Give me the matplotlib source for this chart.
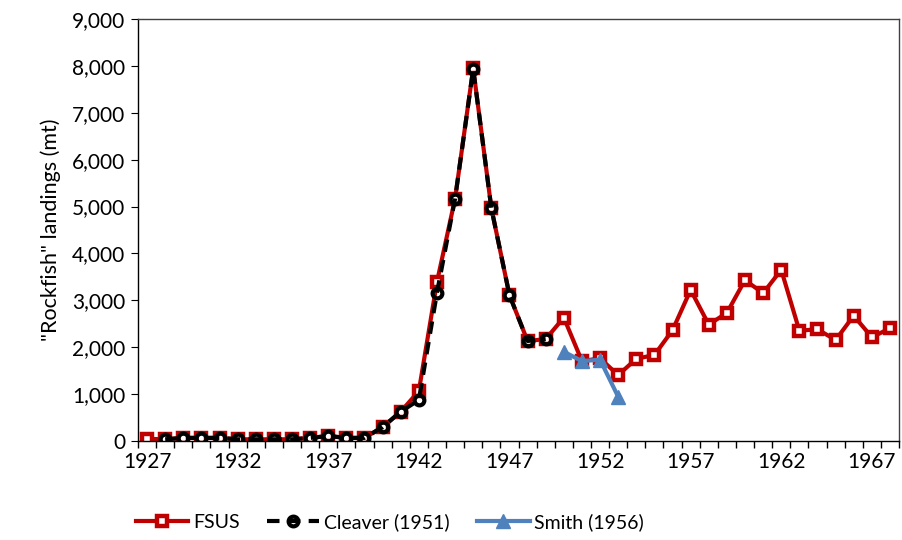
import numpy as np
import matplotlib
matplotlib.use("Agg")
import matplotlib.pyplot as plt
from matplotlib.ticker import FuncFormatter, FixedLocator

plt.rcParams['font.family'] = ['Lato', 'DejaVu Sans']

# ---------------- data ----------------
fsus_years = list(range(1927, 1969))
fsus_vals = [40, 30, 60, 60, 60, 30, 30, 30, 30, 60, 100, 60, 60,
             290, 620, 1060, 3390, 5170, 7950, 4970, 3110, 2130, 2170,
             2630, 1700, 1760, 1400, 1750, 1830, 2360, 3220, 2480, 2730,
             3430, 3150, 3650, 2350, 2380, 2150, 2670, 2210, 2400]

cleaver_years = list(range(1927, 1950))
cleaver_vals = [None, 30, 60, 60, 60, 30, 30, 30, 30, 60, 100, 60, 60,
                290, 620, 870, 3160, 5170, 7940, 4970, 3110, 2130, 2170]

smith_years = [1950, 1951, 1952, 1953]
smith_vals = [1900, 1700, 1730, 940]

xlabels = [1927, 1932, 1937, 1942, 1947, 1952, 1957, 1962, 1967]

red = '#C00000'
blue = '#4F81BD'

fig = plt.figure(figsize=(9.02, 5.4), dpi=100)
ax = fig.add_axes([138/902, 1-440.7/540, (899-138)/902, (440.7-19.3)/540])

cy = np.array([np.nan if v is None else v for v in cleaver_vals], dtype=float)

ax.plot(fsus_years, fsus_vals, color=red, lw=3, marker='s', ms=7,
        mfc='white', mec=red, mew=3.2, label='FSUS', zorder=2)
ax.plot(cleaver_years, cy, color='black', lw=3, ls=(0, (3, 2)), marker='o',
        ms=7, mfc='none', mec='black', mew=3, label='Cleaver (1951)', zorder=3)
ax.plot(smith_years, smith_vals, color=blue, lw=3, marker='^', ms=10,
        mfc=blue, mec=blue, label='Smith (1956)', zorder=4)

ax.set_xlim(1926.5, 1968.5)
ax.set_ylim(0, 9000)
ax.set_yticks(np.arange(0, 9001, 1000))
ax.yaxis.set_major_formatter(FuncFormatter(lambda v, p: f'{int(v):,}'))

# category-style axis: ticks between years, labels every 5th year
ax.xaxis.set_major_locator(FixedLocator(np.arange(1926.5, 1969, 1)))
ax.xaxis.set_major_formatter(FuncFormatter(lambda v, p: ''))
ax.set_xticks(xlabels, minor=True)
ax.set_xticklabels([str(x) for x in xlabels], minor=True)
ax.tick_params(axis='x', which='minor', length=0, pad=8, labelsize=15)
ax.tick_params(axis='x', which='major', length=5, direction='out', width=1)
ax.tick_params(axis='y', length=5, direction='out', labelsize=15, pad=4)

for s in ax.spines.values():
    s.set_color('#404040')
    s.set_linewidth(1)
ax.spines['left'].set_color('black')
ax.spines['bottom'].set_color('black')

ax.set_ylabel('"Rockfish" landings (mt)', fontsize=15.5, labelpad=8)

ax.legend(loc='upper left', bbox_to_anchor=(-0.003, -0.172), ncol=3,
          frameon=False, fontsize=14, handlelength=2.7, columnspacing=1.4,
          handletextpad=0.25, borderpad=0, borderaxespad=0)

fig.savefig('out.png', dpi=100)
